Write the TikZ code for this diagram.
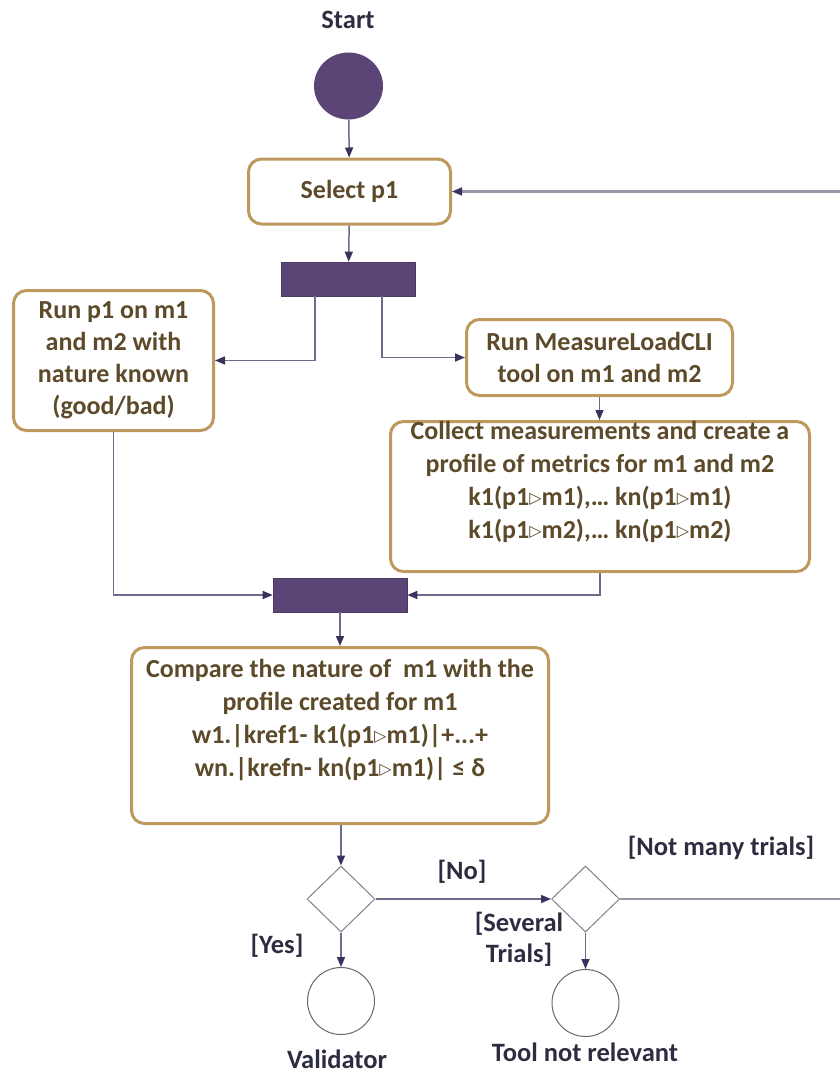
\documentclass[tikz,border=0pt]{standalone}
\usepackage{fontspec}
\setmainfont{Carlito}
\newfontfamily\symfont{DejaVu Sans}
\usetikzlibrary{arrows.meta,shapes.geometric}

\definecolor{barpurple}{RGB}{91,68,118}
\definecolor{boxgold}{RGB}{190,152,92}
\definecolor{boxtext}{RGB}{92,74,42}
\definecolor{labeltext}{RGB}{45,45,66}
\definecolor{flowline}{RGB}{112,106,138}
\definecolor{tipcol}{RGB}{62,48,92}
\definecolor{backline}{RGB}{152,150,164}
\definecolor{shapeline}{RGB}{130,128,142}

% small open triangle used in the metric notation
\newcommand{\ontri}{\raisebox{2pt}{\symfont\fontsize{16}{16}\selectfont ▷}}

\tikzset{
  action/.style={draw=boxgold, line width=3pt, rounded corners=13pt, fill=white,
    inner sep=0pt, text=boxtext, align=center,
    font=\fontsize{26}{32}\selectfont\bfseries},
  boxtxt/.style={inner sep=0pt, text=boxtext, align=center,
    font=\fontsize{26}{33}\selectfont\bfseries},
  syncbar/.style={fill=barpurple, draw=barpurple!85!black, line width=0.6pt,
    minimum width=134pt, minimum height=34pt, inner sep=0pt},
  decision/.style={diamond, draw=shapeline, line width=1pt, fill=white,
    minimum width=68pt, minimum height=66pt, inner sep=0pt},
  finalnode/.style={circle, draw=shapeline!80!black, line width=1pt,
    minimum size=67pt, inner sep=0pt},
  guard/.style={text=labeltext, align=center, inner sep=0pt,
    font=\fontsize{26.5}{31}\selectfont\bfseries},
  flow/.style={draw=flowline, line width=1.5pt,
    -{Triangle[length=10pt,width=8pt,color=tipcol]}},
  loopline/.style={draw=backline, line width=2.2pt},
}

\begin{document}
\begin{tikzpicture}[x=1pt, y=-1pt]
  \useasboundingbox (0,0) rectangle (840,1073);

  % initial node
  \node[guard] (starttxt) at (348,20) {Start};
  \node[ellipse, fill=barpurple, minimum width=69pt, minimum height=67pt, inner sep=0pt]
    (start) at (348.5,86) {};

  % actions
  \node[action, minimum width=202pt, minimum height=65pt] (select) at (349.5,191.5) {Select p1};
  \node[syncbar] (fork) at (348.5,279) {};
  \node[action, minimum width=200pt, minimum height=140pt] (run) at (113.5,360.5)
    {Run p1 on m1\\and m2 with\\nature known\\(good/bad)};
  \node[action, minimum width=266pt, minimum height=76pt] (measure) at (599.5,357.5)
    {Run MeasureLoadCLI\\tool on m1 and m2};
  \node[action, minimum width=419pt, minimum height=150pt] (collect) at (600,496.5) {};
  \node[boxtxt, anchor=north] (collecttxt) at (600,421)
    {Collect measurements and create a\\profile of metrics for m1 and m2\\
     k1(p1\ontri m1),\dots\ kn(p1\ontri m1)\\k1(p1\ontri m2),\dots\ kn(p1\ontri m2)};
  \node[syncbar] (join) at (340,595) {};
  \node[action, minimum width=417pt, minimum height=176pt] (compare) at (340,735.5) {};
  \node[boxtxt, anchor=north] (comparetxt) at (340,659)
    {Compare the nature of \ m1 with the\\profile created for m1\\
     w1.|kref1- k1(p1\ontri m1)|+...+\\wn.|krefn- kn(p1\ontri m1)| ≤ δ};

  % decisions and final nodes
  \node[decision] (dec1) at (341,899) {};
  \node[decision] (dec2) at (585.5,899) {};
  \node[finalnode] (valid) at (341,1001) {};
  \node[finalnode] (norel) at (585.5,1003) {};
  \node[guard] (validtxt) at (337,1059) {Validator};
  \node[guard] (noreltxt) at (585,1052) {Tool not relevant};

  % guards
  \node[guard] (yes) at (277,946) {[Yes]};
  \node[guard] (no) at (462,872) {[No]};
  \node[guard] (notmany) at (721,848) {[Not many trials]};
  \node[guard] (several) at (519,939) {[Several\\Trials]};

  % loop back to the selection step (continues beyond the right border)
  \coordinate (loopout) at (840,899);
  \coordinate (loopin) at (select.east -| 840,0);
  \coordinate (loopend) at ([xshift=10pt]select.east);

  % connectors
  \draw[flow] (start) -- (select);
  \draw[flow] (select) -- (fork);
  \draw[flow] (fork.south -| 315,0) |- (run.east);
  \draw[flow] (fork.south -| 382,0) |- (measure.west);
  \draw[flow] (measure) -- (collect.north -| measure.south);
  \draw[flow] (run.south) |- (join.west);
  \draw[flow] (collect.south) |- (join.east);
  \draw[flow] (join.south) -- (compare.north -| join.south);
  \draw[flow] (compare.south -| dec1.north) -- (dec1.north);
  \draw[flow] (dec1.south) -- (valid.north);
  \draw[flow] (dec1.east) -- (dec2.west);
  \draw[flow] (dec2.south) -- (norel.north);
  \draw[loopline] (dec2.east) -- (loopout);
  \draw[loopline] (loopin) -- (loopend);
  \draw[flow, draw=backline] (loopend) -- (select.east);
\end{tikzpicture}
\end{document}
